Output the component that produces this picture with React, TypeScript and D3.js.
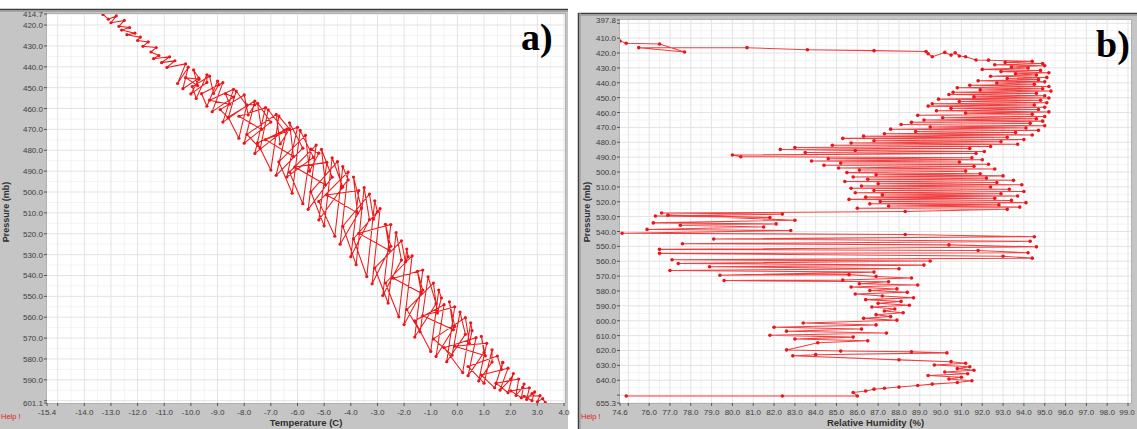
import React from 'react';
import * as d3 from 'd3';

const W = 1137;
const H = 429;

// Panel a: [Temperature (C), Pressure (mb)] in sounding order
const profileA: [number, number][] = [
  [-13.3,414.9],[-13.1,417.2],[-12.8,415.6],[-13.0,418.9],[-12.5,417.8],[-12.7,420.6],[-12.3,421.2],[-12.6,422.4],
  [-12.1,423.9],[-12.4,424.6],[-11.9,425.8],[-12.0,427.4],[-11.6,428.1],[-11.8,430.2],[-11.3,430.8],[-11.5,432.9],
  [-11.2,434.6],[-11.4,436.1],[-10.8,435.2],[-11.1,438.0],[-10.6,437.1],[-10.9,440.3],[-10.2,438.6],
  [-10.5,448.0],
  [-10.1,440.2],[-10.3,450.5],[-9.7,445.4],[-9.9,441.5],[-9.75,449.0],[-10.2,445.2],[-9.7,446.0],[-10.0,453.0],[-9.4,447.5],
  [-9.4,443.8],[-9.8,455.2],[-9.95,449.5],[-9.3,444.5],[-9.15,452.8],[-8.95,448.6],[-9.0,446.8],[-9.4,458.9],[-9.6,452.9],
  [-8.8,447.6],[-9.2,461.5],[-8.4,454.5],[-8.7,452.9],[-8.55,457.9],[-9.3,456.0],[-8.4,450.8],[-8.8,466.5],[-7.9,458.6],
  [-8.3,451.6],[-8.6,464.5],[-8.9,460.5],[-8.0,453.5],[-7.85,463.0],[-7.6,458.2],[-7.9,458.2],[-8.2,474.2],[-8.6,464.2],
  [-7.6,456.4],[-8.0,476.6],[-7.0,466.5],[-7.5,457.5],[-7.35,470.0],[-8.2,463.7],[-7.2,459.6],[-7.6,481.5],[-6.5,470.5],
  [-7.1,460.6],[-7.4,479.2],[-7.9,472.4],[-6.8,462.8],[-6.65,477.0],[-6.3,469.9],[-6.7,463.6],[-7.0,489.5],[-7.5,476.5],
  [-6.4,469.9],[-6.8,492.0],[-5.8,479.0],[-6.3,466.8],[-6.15,483.0],[-7.2,474.9],[-6.0,469.0],[-6.4,492.8],[-5.4,483.4],
  [-5.9,470.5],[-6.2,500.6],[-6.7,485.5],[-5.7,472.8],[-5.55,490.0],[-5.2,481.4],[-5.5,479.4],[-5.8,505.6],[-6.3,490.5],
  [-5.3,477.5],[-5.6,508.3],[-4.7,492.9],[-5.1,479.6],[-4.95,496.5],[-6.1,488.0],[-4.9,485.8],[-5.2,513.4],[-4.3,497.6],
  [-4.7,483.6],[-5.0,516.2],[-5.5,499.9],[-4.5,485.4],[-4.35,498.0],[-4.1,494.2],[-4.3,487.8],[-4.6,521.2],[-5.2,504.5],
  [-4.1,490.4],[-4.4,525.0],[-3.6,507.7],[-3.9,492.8],[-3.75,510.0],[-4.9,501.4],[-3.7,499.3],[-4.0,531.0],[-3.3,513.2],
  [-3.5,497.9],[-3.8,534.8],[-4.3,516.4],[-3.3,501.0],[-3.15,513.0],[-3.0,509.5],[-3.1,504.2],[-3.4,540.5],[-3.9,522.4],
  [-2.9,507.9],[-3.2,544.0],[-2.5,526.0],[-2.7,515.5],[-2.55,528.0],[-3.7,519.8],[-2.5,515.6],[-2.8,549.6],[-2.1,532.6],
  [-2.3,519.5],[-2.6,553.2],[-3.1,536.4],[-2.1,523.4],[-1.95,533.5],[-1.85,531.0],[-1.9,527.3],[-2.2,559.8],[-2.7,543.6],
  [-1.7,530.6],[-2.0,563.5],[-1.3,547.0],[-1.5,538.0],[-1.35,548.5],[-2.4,541.3],[-1.3,537.4],[-1.6,569.5],[-0.8,553.5],
  [-1.1,540.6],[-1.4,567.0],[-1.9,556.3],[-0.9,543.6],[-0.75,558.0],[-0.6,550.8],[-0.7,547.0],[-1.0,576.4],[-1.6,561.7],
  [-0.5,554.0],[-0.8,578.8],[-0.1,564.4],[-0.3,552.6],[-0.15,566.0],[-1.3,559.3],[-0.1,555.0],[-0.4,581.3],[0.3,568.2],
  [0.1,557.5],[-0.2,578.2],[-0.9,570.4],[0.3,560.2],[0.45,572.5],[0.55,566.4],[0.5,562.7],[0.2,586.5],[-0.5,574.6],
  [0.7,569.8],[0.4,588.0],[1.0,576.9],[0.9,569.2],[1.05,578.5],[-0.1,573.9],[1.1,572.5],[0.8,590.5],[1.3,581.5],
  [1.3,575.6],[1.0,591.6],[0.4,583.6],[1.5,578.6],[1.65,585.0],[1.7,581.8],[1.7,581.6],[1.4,593.8],[0.9,587.7],
  [1.9,584.4],[1.6,594.9],[2.0,589.7],[2.1,587.0],[1.9,596.2],[1.45,591.6],[2.3,589.6],[2.2,597.5],[2.45,593.6],
  [2.5,592.0],[2.4,598.6],[2.0,595.3],[2.7,593.8],[2.6,599.4],[2.8,596.6],[2.9,595.8],[2.8,600.0],[2.5,597.9],
  [3.1,597.6],[3.0,600.5],[3.2,599.0],[3.3,600.9],
];

// Panel b: [Relative Humidity (%), Pressure (mb)] in sounding order
const profileB: [number, number][] = [
  [74.6,411.9],[74.9,413.4],[76.5,413.9],[77.7,419.3],[75.5,416.4],[80.7,416.4],[83.6,417.8],[86.8,418.4],
  [89.3,419.0],[89.4,420.5],[89.6,422.5],[90.2,419.6],[90.5,421.4],[90.7,419.9],[90.9,422.0],[91.2,422.5],[91.7,424.7],
  [92.3,424.8],[94.4,425.6],[93.1,426.3],[94.9,427.1],[92.6,427.9],[95.0,428.6],[93.4,429.4],[94.2,430.1],
  [92.0,431.0],[94.8,431.7],[92.9,432.5],[95.2,433.3],[93.6,434.0],[94.6,434.8],[92.4,435.6],[95.1,436.4],
  [93.2,437.1],[94.7,437.9],[91.8,438.6],[95.0,439.4],[92.7,440.2],[94.5,441.0],
  [91.4,441.7],[95.2,442.5],[90.8,443.3],[94.9,444.0],[91.9,444.8],[95.3,445.6],[90.6,446.4],[94.6,447.1],
  [90.4,447.9],[95.0,448.7],[91.6,449.5],[95.2,450.2],[89.9,451.0],[94.8,451.8],[90.9,452.6],[95.1,453.4],
  [89.6,454.1],[94.5,454.9],[89.4,455.7],[95.0,456.5],[90.5,457.2],[94.7,458.0],[89.8,458.8],[95.2,459.6],
  [91.2,460.4],[94.4,461.1],[88.9,461.9],[95.0,462.7],[90.1,463.5],[94.6,464.2],[89.2,465.0],[94.9,465.8],
  [88.6,466.6],[94.3,467.3],
  [88.1,468.1],[95.0,468.9],[89.5,469.7],[94.1,470.4],[87.6,471.2],[94.7,472.0],[88.8,472.8],[93.6,473.5],
  [87.3,474.3],[94.4,475.1],[86.3,475.9],[93.2,476.6],[85.3,477.4],[94.0,478.2],[86.8,479.0],[92.9,479.7],
  [85.7,480.5],[93.7,481.3],[84.8,482.0],[92.4,482.8],[83.0,483.5],[91.4,484.2],[82.3,484.8],[85.9,485.5],[92.1,486.2],
  [83.5,486.9],[91.7,487.6],[80.0,488.6],[80.4,489.7],[91.5,490.4],[84.6,491.1],[92.0,491.8],[83.8,492.6],
  [90.9,493.3],[85.2,494.0],[92.3,494.8],[84.4,495.5],[91.6,496.2],[85.1,497.3],[92.6,498.0],[86.1,498.7],
  [91.2,499.4],[85.5,500.4],
  [91.9,501.2],[86.9,501.9],[93.0,502.6],[85.8,503.4],[92.2,504.1],[86.5,504.9],[93.5,505.6],[85.4,506.4],
  [92.7,507.1],[87.0,507.9],[93.9,508.6],[86.2,509.4],[92.4,510.1],[85.7,510.9],[93.3,511.6],[86.8,512.4],
  [94.0,513.1],[85.9,513.9],[92.9,514.6],[87.2,515.4],[93.7,516.1],[86.4,516.9],[92.6,517.6],[85.6,518.4],
  [93.4,519.1],[87.1,519.9],[94.1,520.6],[86.6,521.4],[92.8,522.1],[87.5,522.9],[93.8,523.6],[86.0,524.4],[93.2,525.1],
  [88.3,526.6],[76.6,527.6],[82.4,528.3],[76.3,529.6],[81.8,530.6],[76.9,529.0],[83.0,532.4],[76.2,534.2],
  [82.1,534.9],[77.5,535.8],[81.5,537.0],[75.9,538.6],[82.8,539.3],[74.7,541.2],
  [88.3,542.0],[94.5,543.5],[79.1,545.0],[94.3,546.6],[77.6,548.2],[90.4,549.0],[94.6,550.3],[76.5,552.0],
  [91.8,552.8],[94.2,554.3],[76.5,554.7],[93.0,556.6],[94.4,557.9],[77.1,559.0],[89.5,559.8],
  [77.4,561.5],[89.2,562.6],[78.9,563.7],[88.0,565.0],[77.0,566.2],[86.8,567.3],[79.4,569.4],[85.6,569.0],
  [86.9,570.2],[88.6,571.3],
  [85.3,572.6],[79.6,573.0],[87.5,573.8],[86.1,575.1],[88.9,576.0],[85.7,577.3],[87.9,578.6],[86.6,579.7],
  [88.4,580.9],[85.9,582.0],[87.2,583.4],[88.7,584.6],[86.4,585.8],[88.1,587.0],[87.0,588.3],[88.5,589.6],
  [86.7,590.8],[87.8,592.1],[87.3,593.4],[88.2,594.6],[86.9,595.9],[87.6,597.2],[86.3,598.4],[87.9,599.6],
  [83.4,601.5],[86.9,602.8],[82.0,604.4],[86.2,605.6],[82.6,607.0],[87.4,608.3],[81.8,609.7],[85.8,611.0],
  [83.0,612.3],[86.5,613.5],[84.1,614.8],
  [82.6,619.6],[85.2,620.4],[88.6,620.9],[90.3,621.6],[84.0,622.8],[82.9,623.6],
  [88.0,626.3],[90.5,627.5],[91.2,628.6],[89.7,629.8],[91.4,630.9],[90.8,632.2],[91.6,633.3],[90.2,634.5],
  [91.3,635.6],[89.4,636.8],[91.0,638.0],[90.4,639.2],[91.5,640.3],
  [90.8,641.5],[89.6,642.6],[88.9,643.5],[88.0,644.6],[87.3,645.4],[86.8,646.0],[86.4,647.2],[85.8,648.2],
  [86.0,650.6],[82.4,650.6],[74.9,650.6],
];

// Axis ticks
const tempTicks = [-15.4,-14,-13,-12,-11,-10,-9,-8,-7,-6,-5,-4,-3,-2,-1,0,1,2,3,4];
const tempMinorTicks = [-15];
const presTicksA = [414.7,420,430,440,450,460,470,480,490,500,510,520,530,540,550,560,570,580,590,601.1];
const presMinorTicksA = [600];
const rhTicks = [74.6,76,77,78,79,80,81,82,83,84,85,86,87,88,89,90,91,92,93,94,95,96,97,98,99];
const rhMinorTicks = [75];
const presTicksB = [397.8,410,420,430,440,450,460,470,480,490,500,510,520,530,540,550,560,570,580,590,600,610,620,630,640,655.3];
const presMinorTicksB = [400,650];

const TICK_FONT = "'Liberation Sans', Arial, sans-serif";

type PanelProps = {
  id: string;
  frame: { x0: number; y0: number; x1: number; y1: number };
  plot: { x0: number; y0: number; x1: number; y1: number; xr: number };
  xDomain: [number, number];
  yDomain: [number, number];
  data: [number, number][];
  xTicks: number[];
  xMinor: number[];
  yTicks: number[];
  yMinor: number[];
  xTitle: string;
  yTitle: string;
  tag: string;
  tagX: number;
  tagY: number;
  dotR: number;
  stroke: string;
  leftBorder: boolean;
  helpX: number;
};

function Panel(p: PanelProps) {
  const x = d3.scaleLinear().domain(p.xDomain).range([p.plot.x0, p.plot.xr]);
  const y = d3.scaleLinear().domain(p.yDomain).range([p.plot.y0, p.plot.y1]);
  const pts = p.data.map((d) => [x(d[0]), y(d[1])] as [number, number]);
  const path = d3.line()(pts) || '';
  const xGrid = d3.range(Math.ceil(p.xDomain[0]), Math.floor(p.xDomain[1]) + 1);
  const xGridMinor = d3.range(Math.ceil(p.xDomain[0] * 2) / 2, p.xDomain[1], 0.5).filter((v) => v % 1 !== 0);
  const yGrid = d3.range(Math.ceil(p.yDomain[0] / 10) * 10, p.yDomain[1], 10);
  const yGridMinor = d3.range(Math.ceil(p.yDomain[0] / 5) * 5, p.yDomain[1], 5).filter((v) => v % 10 !== 0);
  const f = p.frame;
  const pl = p.plot;
  const midX = (pl.x0 + pl.x1) / 2;
  const midY = 212;
  return (
    <g>
      <defs>
        <clipPath id={`plot-${p.id}`}>
          <rect x={pl.x0} y={pl.y0} width={pl.x1 - pl.x0} height={pl.y1 - pl.y0} />
        </clipPath>
      </defs>
      <rect x={f.x0} y={f.y0} width={f.x1 - f.x0} height={f.y1 - f.y0} fill="#c5c5c5" />
      <line x1={f.x0} x2={f.x1} y1={f.y0 + 0.5} y2={f.y0 + 0.5} stroke="#3c3c3c" strokeWidth={1.5} />
      <line x1={f.x0} x2={f.x1} y1={f.y0 + 2} y2={f.y0 + 2} stroke="#9a9a9a" strokeWidth={1.5} />
      {p.leftBorder && (
        <>
          <line x1={f.x0 + 0.5} x2={f.x0 + 0.5} y1={f.y0} y2={f.y1} stroke="#3c3c3c" strokeWidth={1.5} />
          <line x1={f.x0 + 2} x2={f.x0 + 2} y1={f.y0} y2={f.y1} stroke="#9a9a9a" strokeWidth={1.2} />
        </>
      )}
      <rect x={pl.x0} y={pl.y0} width={pl.x1 - pl.x0} height={pl.y1 - pl.y0} fill="#ffffff" />
      <g clipPath={`url(#plot-${p.id})`}>
        {xGridMinor.map((v) => (
          <line key={`xm${v}`} x1={x(v)} x2={x(v)} y1={pl.y0} y2={pl.y1} stroke="#f3f3f3" strokeWidth={1} />
        ))}
        {yGridMinor.map((v) => (
          <line key={`ym${v}`} x1={pl.x0} x2={pl.x1} y1={y(v)} y2={y(v)} stroke="#f3f3f3" strokeWidth={1} />
        ))}
        {xGrid.map((v) => (
          <line key={`xg${v}`} x1={x(v)} x2={x(v)} y1={pl.y0} y2={pl.y1} stroke="#e3e3e3" strokeWidth={1} />
        ))}
        {yGrid.map((v) => (
          <line key={`yg${v}`} x1={pl.x0} x2={pl.x1} y1={y(v)} y2={y(v)} stroke="#e3e3e3" strokeWidth={1} />
        ))}
        <path d={path} fill="none" stroke={p.stroke} strokeWidth={1.05} strokeLinejoin="round" />
        {pts.map((q, i) => (
          <circle key={i} cx={q[0]} cy={q[1]} r={p.dotR} fill="#e8161c" />
        ))}
      </g>
      <rect x={pl.x0 - 0.5} y={pl.y0 - 0.5} width={pl.x1 - pl.x0 + 1} height={pl.y1 - pl.y0 + 1} fill="none" stroke="#b0b0b0" strokeWidth={1} />
      {p.yTicks.map((v) => (
        <g key={`yt${v}`}>
          <line x1={pl.x0 - 3} x2={pl.x0} y1={y(v)} y2={y(v)} stroke="#555" strokeWidth={1} />
          <text x={pl.x0 - 4} y={y(v) + 3} textAnchor="end" fontSize={8} fontFamily={TICK_FONT} fill="#404040">
            {v.toFixed(1)}
          </text>
        </g>
      ))}
      {p.yMinor.map((v) => (
        <line key={`ymt${v}`} x1={pl.x0 - 3} x2={pl.x0} y1={y(v)} y2={y(v)} stroke="#555" strokeWidth={1} />
      ))}
      {p.xTicks.map((v) => (
        <g key={`xt${v}`}>
          <line x1={x(v)} x2={x(v)} y1={pl.y1} y2={pl.y1 + 3} stroke="#555" strokeWidth={1} />
          <text x={Math.min(x(v), W - 10)} y={pl.y1 + 12} textAnchor="middle" fontSize={8} fontFamily={TICK_FONT} fill="#404040">
            {v.toFixed(1)}
          </text>
        </g>
      ))}
      {p.xMinor.map((v) => (
        <line key={`xmt${v}`} x1={x(v)} x2={x(v)} y1={pl.y1} y2={pl.y1 + 3} stroke="#555" strokeWidth={1} />
      ))}
      <text x={midX} y={pl.y1 + 23} textAnchor="middle" fontSize={9.5} fontWeight="bold" fontFamily={TICK_FONT} fill="#303030">
        {p.xTitle}
      </text>
      <text x={p.helpX} y={419} textAnchor="start" fontSize={7.5} fontFamily={TICK_FONT} fill="#e02020">
        Help !
      </text>
      <text
        transform={`translate(${f.x0 + (p.leftBorder ? 12 : 11)},${midY}) rotate(-90)`}
        textAnchor="middle"
        fontSize={9}
        fontWeight="bold"
        fontFamily={TICK_FONT}
        fill="#303030"
      >
        {p.yTitle}
      </text>
      <text x={p.tagX} y={p.tagY} fontSize={38} fontWeight="bold" fontFamily="'Liberation Serif', 'Times New Roman', serif" fill="#000">
        {p.tag}
      </text>
    </g>
  );
}

export default function App() {
  return (
    <svg
      width={W}
      height={H}
      viewBox={`0 0 ${W} ${H}`}
      style={{ position: 'absolute', left: 0, top: 0, background: '#ffffff' }}
    >
      <rect x={0} y={0} width={W} height={H} fill="#ffffff" />
      <Panel
        id="a"
        frame={{ x0: -2, y0: 9, x1: 568, y1: 429 }}
        plot={{ x0: 47, y0: 14, x1: 565, y1: 403, xr: 564 }}
        xDomain={[-15.4, 4.0]}
        yDomain={[414.7, 601.1]}
        data={profileA}
        xTicks={tempTicks}
        xMinor={tempMinorTicks}
        yTicks={presTicksA}
        yMinor={presMinorTicksA}
        xTitle="Temperature (C)"
        yTitle="Pressure (mb)"
        tag="a)"
        tagX={521}
        tagY={50}
        dotR={1.6}
        stroke="#f01818"
        leftBorder={false}
        helpX={1}
      />
      <Panel
        id="b"
        frame={{ x0: 578, y0: 13, x1: 1137, y1: 429 }}
        plot={{ x0: 620, y0: 20, x1: 1131, y1: 403, xr: 1128 }}
        xDomain={[74.6, 99.0]}
        yDomain={[397.8, 655.3]}
        data={profileB}
        xTicks={rhTicks}
        xMinor={rhMinorTicks}
        yTicks={presTicksB}
        yMinor={presMinorTicksB}
        xTitle="Relative Humidity (%)"
        yTitle="Pressure (mb)"
        tag="b)"
        tagX={1096}
        tagY={57}
        dotR={1.8}
        stroke="#f04040"
        leftBorder={true}
        helpX={581}
      />
    </svg>
  );
}
